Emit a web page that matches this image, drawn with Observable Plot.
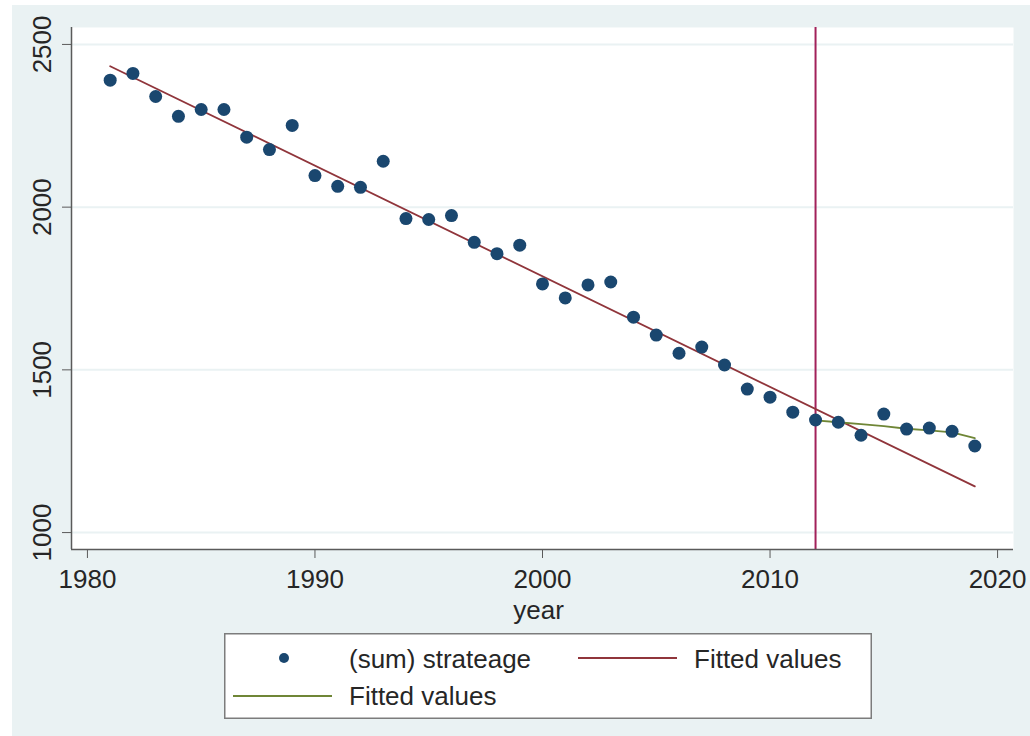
<!DOCTYPE html>
<html>
<head>
<meta charset="utf-8">
<script src="https://cdn.jsdelivr.net/npm/d3@7"></script>
<script src="https://cdn.jsdelivr.net/npm/@observablehq/plot@0.6"></script>
<style>
  html, body { margin: 0; padding: 0; background: #ffffff; }
  #wrap { position: relative; width: 1030px; height: 736px; background: #ffffff; overflow: hidden; font-family: "Liberation Sans", Arial, sans-serif; }
  #bg { position: absolute; left: 12px; top: 5px; right: 0; bottom: 0; background: #eaf2f3; }
  #chart { position: absolute; left: 0; top: 0; }
  #legend { position: absolute; left: 224px; top: 633px; }
</style>
</head>
<body>
<div id="wrap">
  <div id="bg"></div>
  <div id="chart"></div>
  <svg id="legend" width="648" height="86"></svg>
</div>
<script>
// ---- data ----
const years = [1981, 1982, 1983, 1984, 1985, 1986, 1987, 1988, 1989, 1990,
               1991, 1992, 1993, 1994, 1995, 1996, 1997, 1998, 1999, 2000,
               2001, 2002, 2003, 2004, 2005, 2006, 2007, 2008, 2009, 2010,
               2011, 2012, 2013, 2014, 2015, 2016, 2017, 2018, 2019];
const strateage = [2390, 2411, 2340, 2279, 2300, 2300, 2215, 2177, 2251, 2097,
                   2064, 2061, 2141, 1965, 1962, 1974, 1892, 1857, 1883, 1764,
                   1721, 1761, 1770, 1662, 1607, 1551, 1570, 1515, 1441, 1416,
                   1370, 1346, 1339, 1299, 1364, 1318, 1321, 1311, 1266];
const fitAllYears = [1981, 2019];
const fitAllValues = [2433, 1142];
const fitPostYears = [2012, 2013, 2014, 2015, 2016, 2017, 2018, 2019];
const fitPostValues = [1345, 1339, 1333, 1327, 1319, 1314, 1308, 1290];
const breakYear = [2012];
const xTicks = [1980, 1990, 2000, 2010, 2020];
const yTicks = [1000, 1500, 2000, 2500];
const xDomain = [1979.3, 2020.7];
const yDomain = [948, 2552];
const xLabel = "year";
const legendLabels = ["(sum) strateage", "Fitted values", "Fitted values"];

// ---- colours ----
const navy = "#1a476f", maroon = "#90353b", green = "#6f8636", vline = "#a2215a";
const axisColor = "#5a5a5a", textColor = "#262626", gridColor = "#eaf2f3";

const points = years.map((y, i) => ({year: y, value: strateage[i]}));
const fitAll = fitAllYears.map((y, i) => ({year: y, value: fitAllValues[i]}));
const fitPost = fitPostYears.map((y, i) => ({year: y, value: fitPostValues[i]}));

const plot = Plot.plot({
  width: 1030,
  height: 620,
  marginLeft: 71,
  marginRight: 17,
  marginTop: 27,
  marginBottom: 71,
  style: {background: "transparent", fontFamily: "'Liberation Sans', Arial, sans-serif", overflow: "visible"},
  x: {domain: xDomain, axis: null},
  y: {domain: yDomain, axis: null},
  marks: [
    Plot.frame({fill: "white", stroke: "none"}),
    Plot.ruleY(yTicks, {stroke: gridColor, strokeWidth: 2}),
    Plot.ruleX(breakYear, {stroke: vline, strokeWidth: 2}),
    Plot.line(fitAll, {x: "year", y: "value", stroke: maroon, strokeWidth: 1.8}),
    Plot.line(fitPost, {x: "year", y: "value", stroke: green, strokeWidth: 1.8}),
    Plot.dot(points, {x: "year", y: "value", r: 6.5, fill: navy, stroke: "none"}),
    Plot.ruleX([xDomain[0]], {stroke: axisColor, strokeWidth: 1.5}),
    Plot.ruleY([yDomain[0]], {stroke: axisColor, strokeWidth: 1.5}),
    Plot.axisX(xTicks, {anchor: "bottom", tickSize: 9, tickPadding: 11, fontSize: 26, stroke: axisColor, color: textColor, label: null, tickFormat: d => String(d)}),
    Plot.axisY(yTicks, {anchor: "left", tickSize: 9, tickPadding: 12, tickRotate: -90, fontSize: 26, stroke: axisColor, color: textColor, label: null, tickFormat: d => String(d)}),
    Plot.text([xLabel], {text: d => d, frameAnchor: "bottom", dy: 69, dx: -4, fontSize: 26, fill: textColor})
  ]
});
document.getElementById("chart").appendChild(plot);

// ---- legend ----
const lg = d3.select("#legend");
lg.append("rect").attr("x", 0.75).attr("y", 0.75).attr("width", 646.5).attr("height", 84.5)
  .attr("fill", "white").attr("stroke", "#7c7c7c").attr("stroke-width", 1.5);
lg.append("circle").attr("cx", 60).attr("cy", 25).attr("r", 5).attr("fill", navy);
lg.append("line").attr("x1", 354).attr("x2", 453).attr("y1", 25).attr("y2", 25).attr("stroke", maroon).attr("stroke-width", 1.8);
lg.append("line").attr("x1", 9).attr("x2", 108).attr("y1", 63).attr("y2", 63).attr("stroke", green).attr("stroke-width", 1.8);
const tstyle = s => s.attr("font-size", 26).attr("fill", textColor).attr("font-family", "'Liberation Sans', Arial, sans-serif");
tstyle(lg.append("text").attr("x", 125).attr("y", 35).text(legendLabels[0]));
tstyle(lg.append("text").attr("x", 470).attr("y", 35).text(legendLabels[1]));
tstyle(lg.append("text").attr("x", 125).attr("y", 72).text(legendLabels[2]));
</script>
</body>
</html>
